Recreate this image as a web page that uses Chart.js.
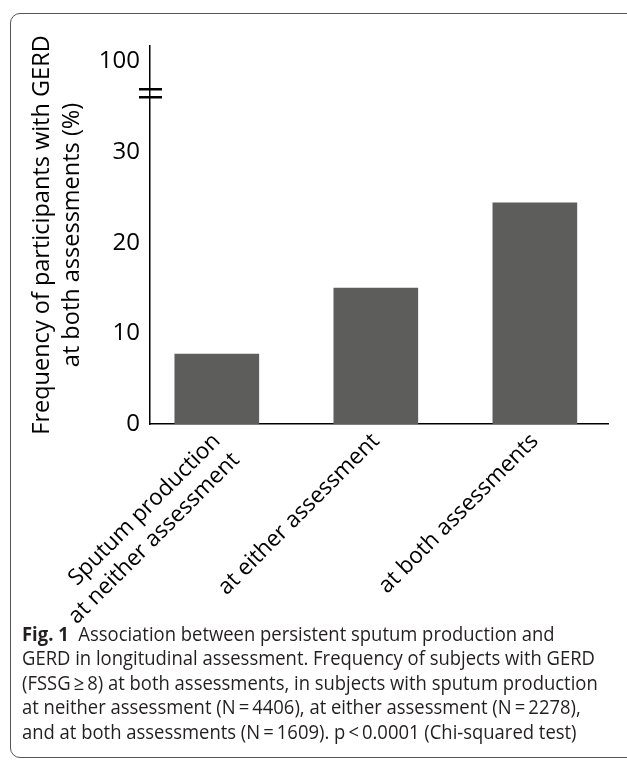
<!DOCTYPE html>
<html><head><meta charset="utf-8">
<script src="https://cdn.jsdelivr.net/npm/chart.js@4.4.1/dist/chart.umd.min.js"></script>
<style>
html,body{margin:0;padding:0;background:#fff;width:627px;height:761px;overflow:hidden;}
#frame{position:absolute;left:10px;top:13px;width:640px;height:745px;border:1.3px solid #555;border-radius:10px;box-sizing:border-box;}
#wrap{position:absolute;left:0;top:0;width:627px;height:625px;}
#caption{position:absolute;left:22px;top:622px;font-family:'Open Sans',sans-serif;font-size:20px;line-height:24.4px;color:#231f20;white-space:nowrap;transform-origin:0 0;}
#caption b{font-weight:700;}
</style></head><body>
<div id="frame"></div>
<div id="wrap"><canvas id="c" width="627" height="625"></canvas></div>
<div id="caption">
<div><b>Fig. 1</b>&nbsp; Association between persistent sputum production and</div>
<div id="refline">GERD in longitudinal assessment. Frequency of subjects with GERD</div>
<div>(FSSG&#8201;&#8805;&#8201;8) at both assessments, in subjects with sputum production</div>
<div>at neither assessment (N&#8201;=&#8201;4406), at either assessment (N&#8201;=&#8201;2278),</div>
<div>and at both assessments (N&#8201;=&#8201;1609). p&#8201;&lt;&#8201;0.0001 (Chi-squared test)</div>
</div>
<script>
// ---- data ----
const categories = [["Sputum production", "at neither assessment"], "at either assessment", "at both assessments"];
const frequencies = [7.7, 15.0, 24.4];
const yTickValues = [0, 10, 20, 30, 40];
const yTickLabels = ["0", "10", "20", "30", "100"];
const yAxisBreakValue = 36.5;
const yTitle = ["Frequency of participants with GERD", "at both assessments (%)"];

const FONT = "'Open Sans', 'Noto Sans', sans-serif";

const breakPlugin = {
  id: 'axisBreak',
  afterDraw(chart) {
    const y = chart.scales.y;
    const ctx = chart.ctx;
    const py = y.getPixelForValue(yAxisBreakValue);
    const px = y.right;
    ctx.save();
    ctx.strokeStyle = '#000';
    ctx.lineWidth = 2.5;
    ctx.beginPath();
    ctx.moveTo(px - 11, py - 4); ctx.lineTo(px + 12, py - 4);
    ctx.moveTo(px - 11, py + 4); ctx.lineTo(px + 12, py + 4);
    ctx.stroke();
    ctx.restore();
  }
};

new Chart(document.getElementById('c'), {
  type: 'bar',
  data: {
    datasets: [{
      data: frequencies.map((v, i) => ({x: i, y: v})),
      backgroundColor: '#5d5d5b',
      borderWidth: 0,
      barThickness: 84
    }]
  },
  options: {
    responsive: false,
    animation: false,
    layout: {padding: {top: 46, right: 19, left: 0, bottom: 0}},
    plugins: {legend: {display: false}, tooltip: {enabled: false}},
    scales: {
      x: {
        type: 'linear',
        offset: false,
        min: -0.42, max: 2.46,
        grid: {display: false, offset: false},
        border: {display: true, color: '#000', width: 1.5},
        afterBuildTicks(s) { s.ticks = categories.map((_, i) => ({value: i})); },
        afterFit(s) { s.height = 625 - 424; },
        ticks: {
          autoSkip: false,
          minRotation: 45, maxRotation: 45,
          padding: -4,
          color: '#000',
          font: {family: FONT, size: 22.5, lineHeight: 1.2},
          callback: (v) => categories[v]
        }
      },
      y: {
        type: 'linear',
        min: 0, max: 41.7,
        grid: {display: false},
        border: {display: true, color: '#000', width: 1.5},
        afterBuildTicks(s) { s.ticks = yTickValues.map(v => ({value: v})); },
        afterFit(s) { s.width = 150; },
        ticks: {
          padding: 2,
          color: '#000',
          font: {family: FONT, size: 24},
          callback: (v) => yTickLabels[yTickValues.indexOf(v)]
        },
        title: {
          display: true,
          text: yTitle,
          color: '#000',
          font: {family: FONT, size: 23.5, lineHeight: 1.25},
          padding: {top: 28, bottom: 0}
        }
      }
    }
  },
  plugins: [breakPlugin]
});

// fit caption width to the reference's text block
(function(){
  const cap = document.getElementById('caption');
  const ref = document.getElementById('refline');
  const span = document.createElement('span');
  span.textContent = ref.textContent;
  ref.textContent = '';
  ref.appendChild(span);
  const w = span.getBoundingClientRect().width;
  cap.style.transform = 'scaleX(' + (573 / w) + ')';
})();
</script>
</body></html>
